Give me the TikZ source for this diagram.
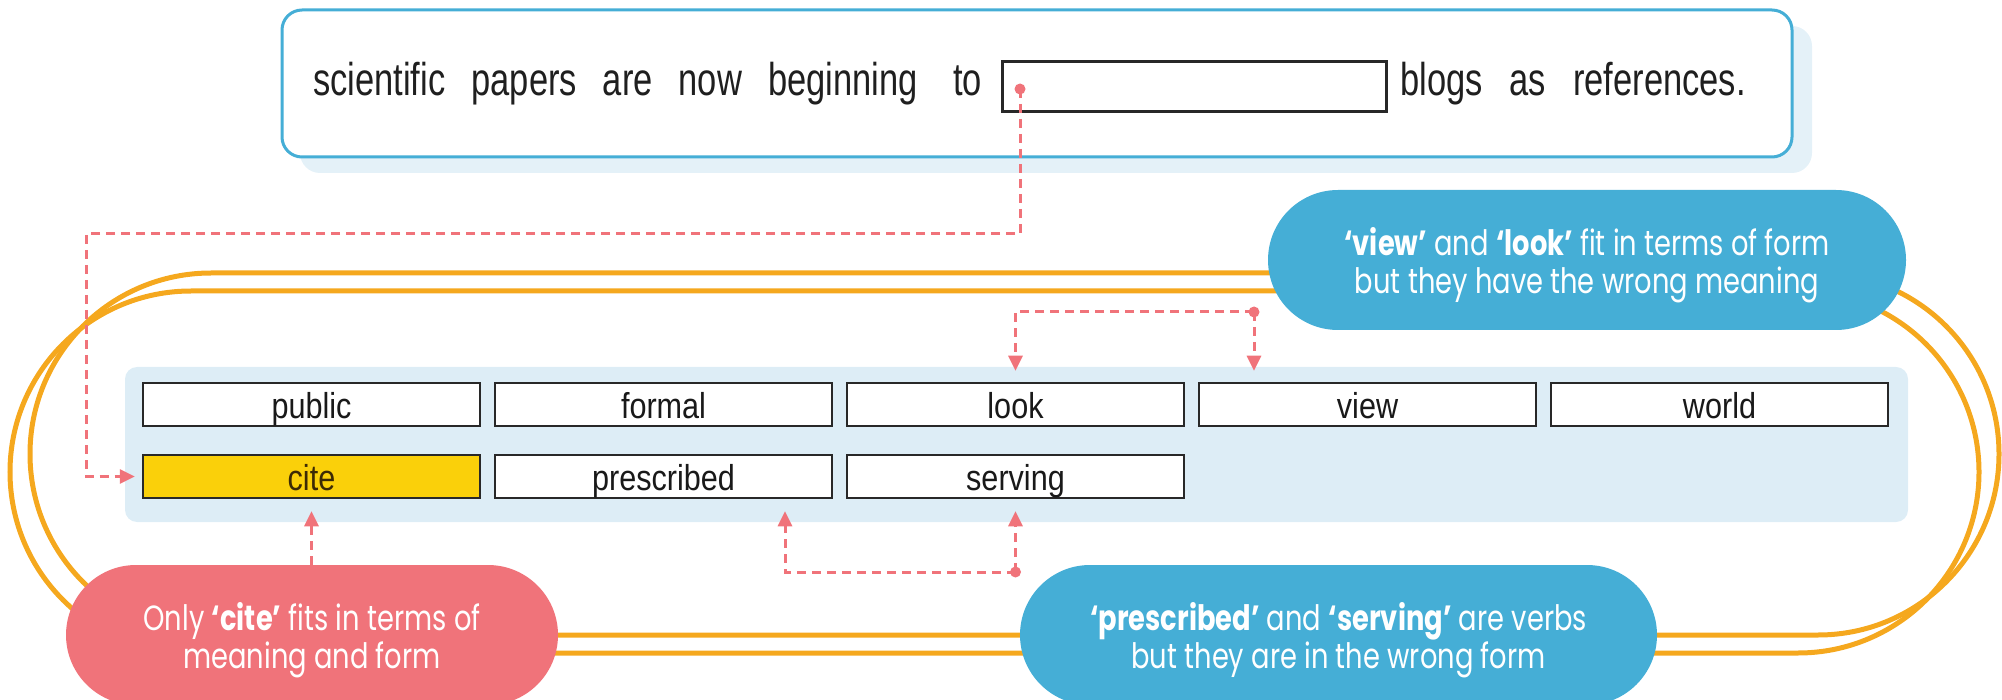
\documentclass[tikz,border=0pt]{standalone}
\usepackage{fontspec}
\setmainfont{Liberation Sans}
\newfontfamily\popfont[FakeStretch=0.78]{Poppins}
\newfontfamily\narrowfont[FakeStretch=0.75]{Liberation Sans}
\newfontfamily\wordfont[FakeStretch=0.85]{Liberation Sans}
\usetikzlibrary{arrows.meta,calc}
\definecolor{orangeL}{RGB}{245,168,30}
\definecolor{salmon}{RGB}{240,115,122}
\definecolor{blueB}{RGB}{69,174,214}
\definecolor{panelC}{RGB}{221,237,246}
\definecolor{shadowC}{RGB}{228,241,248}
\definecolor{yellowC}{RGB}{250,208,10}
\definecolor{darkC}{RGB}{40,40,40}
\definecolor{citeT}{RGB}{60,42,5}
\newcommand\sentfontA{\narrowfont\fontsize{46}{50}\selectfont\spaceskip=26pt\relax}
\newcommand\sentfontB{\narrowfont\fontsize{46}{50}\selectfont\spaceskip=27pt\relax}
\begin{document}
\begin{tikzpicture}[x=1pt,y=-1pt,
  loopsty/.style={draw=orangeL, line width=5pt, rounded corners=181pt},
  sentbox/.style={draw=blueB, line width=3pt, fill=white, rounded corners=20pt, inner sep=0pt},
  senttext/.style={inner sep=0pt, text=black!88, font=\sentfontA},
  blankbox/.style={draw=darkC, line width=3pt, fill=white, inner sep=0pt},
  panelsty/.style={fill=panelC, rounded corners=12pt, inner sep=0pt},
  word/.style={draw=darkC, line width=2.5pt, fill=white, minimum width=337pt, minimum height=43pt,
    inner sep=0pt, text height=27pt, text depth=0pt, text=black!90, font=\wordfont\fontsize{36}{40}\selectfont},
  conn/.style={draw=salmon, line width=3pt, dash pattern=on 9pt off 6pt},
  arr/.style={-{Triangle[length=15pt,width=14pt]}},
  dotn/.style={circle, fill=salmon, minimum size=11pt, inner sep=0pt},
  bubble/.style={rounded corners=70pt, minimum height=140pt, inner sep=0pt},
  bubtext/.style={inner sep=0pt, text=white, align=center, font=\popfont\fontsize{35}{38}\selectfont}
]
\useasboundingbox (0,0) rectangle (2002,700);
\clip (0,0) rectangle (2002,700);

% orange loops
\draw[loopsty] (30,273) rectangle (1999,635);
\draw[loopsty] (10,291) rectangle (1979,653);

% sentence box
\fill[shadowC, rounded corners=20pt] (300,26) rectangle (1812,173);
\node[sentbox, minimum width=1510pt, minimum height=147pt] (sent) at (1037,83.5) {};
\node[senttext, anchor=base west] (s1) at (313,96) {scientific papers are now beginning};
\node[senttext, anchor=base east] (s2) at (982,96) {to};
\node[blankbox, anchor=north west, minimum width=384pt, minimum height=50pt] (blank) at (1001,60) {};
\node[senttext, anchor=base west, font=\sentfontB] (s3) at (1400,96) {blogs as references.};

% panel with words
\node[panelsty, minimum width=1783pt, minimum height=155pt] (panel) at (1016.5,444.5) {};
\node[word] (public) at (311.5,404.5) {public};
\node[word] (formal) at (663.5,404.5) {formal};
\node[word] (look) at (1015.5,404.5) {look};
\node[word] (view) at (1367.5,404.5) {view};
\node[word] (world) at (1719.5,404.5) {world};
\node[word, fill=yellowC, text=citeT] (cite) at (311.5,476.5) {cite};
\node[word] (prescribed) at (663.5,476.5) {prescribed};
\node[word] (serving) at (1015.5,476.5) {serving};

% bubbles
\node[bubble, fill=blueB, minimum width=638pt] (bview) at (1587,260) {};
\node[bubtext] (tview) at ($(bview.center)+(0,5)$)
  {\textbf{‘view’} and \textbf{‘look’} fit in terms of form\\but they have the wrong meaning};
\node[bubble, fill=blueB, minimum width=637pt] (bverb) at (1338.5,635) {};
\node[bubtext] (tverb) at ($(bverb.center)+(0,5)$)
  {\textbf{‘prescribed’} and \textbf{‘serving’} are verbs\\but they are in the wrong form};
\node[bubble, fill=salmon, minimum width=492pt] (bcite) at (312,635) {};
\node[bubtext] (tcite) at ($(bcite.center)+(0,5)$)
  {Only \textbf{‘cite’} fits in terms of\\meaning and form};

% connectors
\coordinate (p1) at (1020,89);
\coordinate (k1) at (86,234);
\draw[conn, arr] (p1) -- (p1 |- k1) -- (k1) -- (k1 |- cite.west) -- ($(cite.west)+(-7,0)$);

\coordinate (p2) at (1254,312);
\draw[conn, arr] (p2) -- (p2 -| look.north) -- ($(look.north)+(0,-11)$);
\draw[conn, arr] (p2) -- ($(p2 |- view.north)+(0,-11)$);

\coordinate (p3) at (1015.5,572);
\coordinate (k3) at (785,572);
\draw[conn, arr] (p3) -- ($(serving.south)+(0,12)$);
\draw[conn, arr] (p3) -- (k3) -- ($(k3 |- prescribed.south)+(0,12)$);

\draw[conn, arr] (bcite.north -| cite.south) -- ($(cite.south)+(0,12)$);

% dots
\node[dotn] (d1) at (p1) {};
\node[dotn] (d2) at (p2) {};
\node[dotn] (d3) at (p3) {};
\end{tikzpicture}
\end{document}
